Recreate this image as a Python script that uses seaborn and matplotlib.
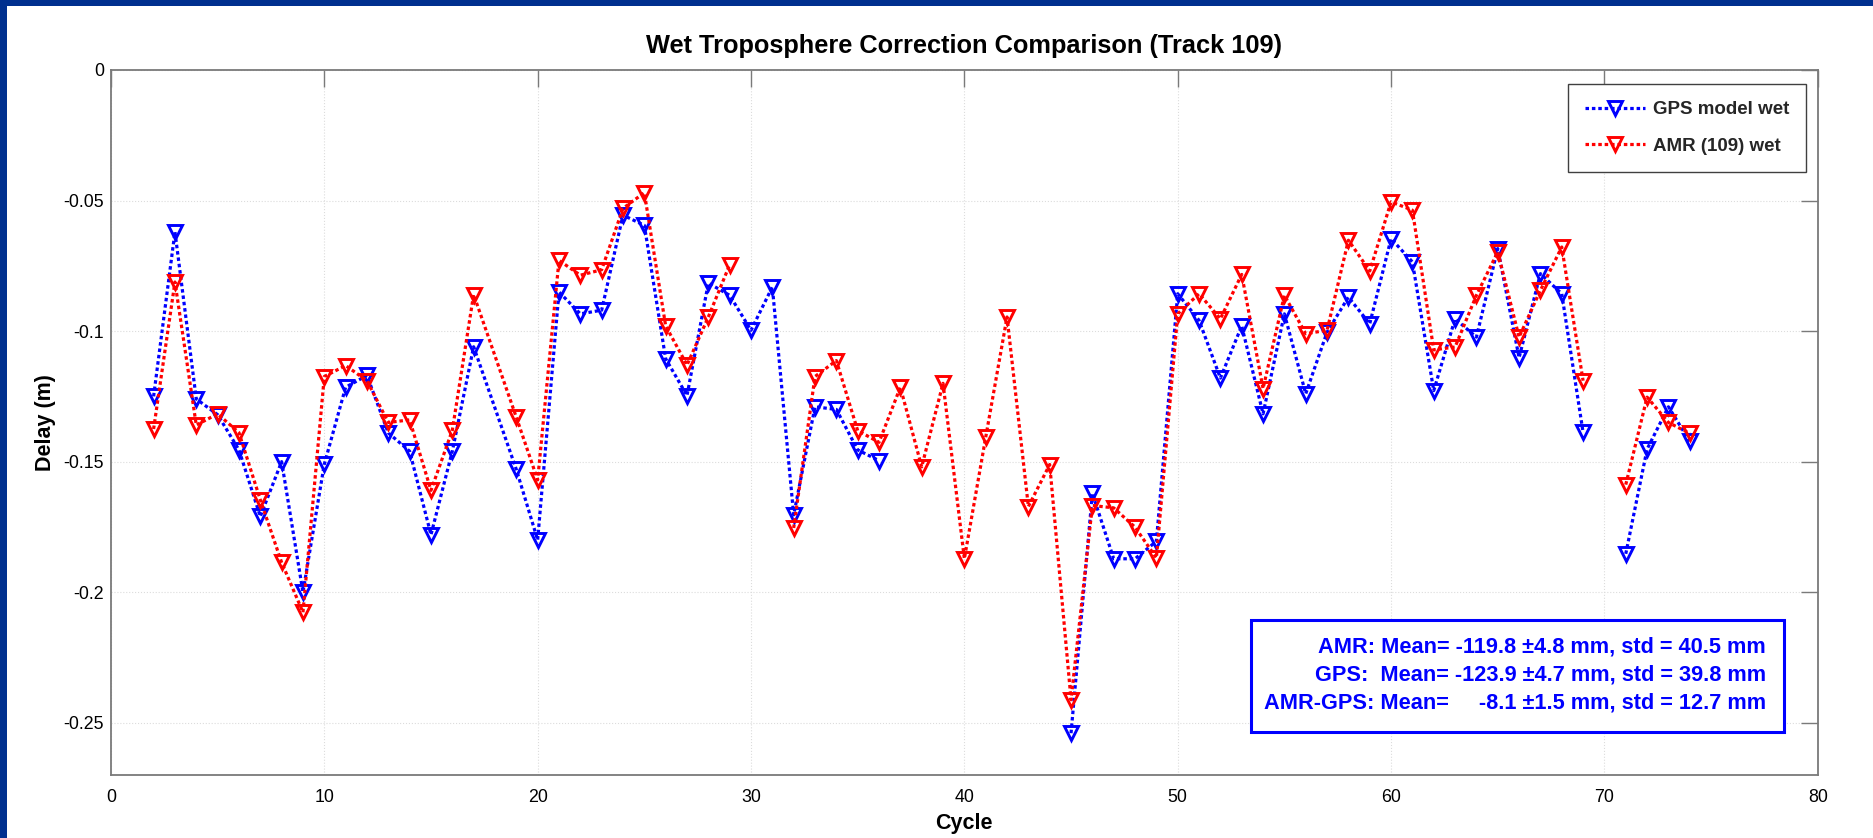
import numpy as np
import pandas as pd
import matplotlib
matplotlib.use("Agg")
import matplotlib.pyplot as plt
import seaborn as sns
from matplotlib.patches import Rectangle
from matplotlib.lines import Line2D

# ---------------- data ----------------
cycles = [2, 3, 4, 5, 6, 7, 8, 9, 10, 11, 12, 13, 14, 15, 16, 17,
          19, 20, 21, 22, 23, 24, 25, 26, 27, 28, 29, 30, 31, 32, 33, 34, 35, 36,
          37, 38, 39, 40, 41, 42, 43, 44, 45, 46, 47, 48, 49, 50,
          51, 52, 53, 54, 55, 56, 57, 58, 59, 60, 61, 62, 63, 64, 65, 66, 67, 68, 69,
          70, 71, 72, 73, 74]

nan = np.nan
gps_wet = [-0.125, -0.062, -0.126, -0.132, -0.1455, -0.171, -0.150, -0.200, -0.151, -0.1215,
           -0.117, -0.139, -0.146, -0.178, -0.146, -0.106,
           -0.153, -0.180, -0.085, -0.0934, -0.092, -0.0556, -0.0595, -0.1106, -0.1247, -0.0816,
           -0.0863, -0.0997, -0.0831, -0.1704, -0.129, -0.130, -0.1455, -0.1496,
           nan, nan, nan, nan, nan, nan, nan, nan, -0.254, -0.1621, -0.1872, -0.1872, -0.1805, -0.0857,
           -0.0959, -0.118, -0.098, -0.1317, -0.0934, -0.124, -0.1004, -0.087, -0.0972, -0.0646,
           -0.0735, -0.1228, -0.0953, -0.1023, -0.0684, -0.1102, -0.078, -0.0857, -0.1388,
           nan, -0.1853, -0.1452, -0.129, -0.1422]

amr_wet = [-0.1375, -0.0812, -0.136, -0.1317, -0.1389, -0.1646, -0.1886, -0.2077, -0.1174, -0.1132,
           -0.119, -0.135, -0.134, -0.161, -0.138, -0.086,
           -0.133, -0.157, -0.0729, -0.0786, -0.0765, -0.053, -0.047, -0.098, -0.113, -0.0946,
           -0.0746, nan, nan, -0.1754, -0.1174, -0.1113, -0.1381, -0.1426,
           -0.1215, -0.152, -0.120, -0.1872, -0.1407, -0.0946, -0.1672, -0.1511, -0.2412, -0.1668,
           -0.1677, -0.1751, -0.1869, -0.0934,
           -0.0857, -0.0953, -0.0783, -0.122, -0.0863, -0.101, -0.0997, -0.0652, -0.077, -0.0505,
           -0.0537, -0.1072, -0.1061, -0.0863, -0.0697, -0.1023, -0.0844, -0.0678, -0.119,
           nan, -0.1588, -0.1253, -0.135, -0.1392]

series_names = ["GPS model wet", "AMR (109) wet"]
series_colors = ["#0000FF", "#FF0000"]

stats_lines = ["AMR: Mean= -119.8 \u00b14.8 mm, std = 40.5 mm",
               "GPS:  Mean= -123.9 \u00b14.7 mm, std = 39.8 mm",
               "AMR-GPS: Mean=     -8.1 \u00b11.5 mm, std = 12.7 mm"]

title_text = "Wet Troposphere Correction Comparison (Track 109)"
x_label = "Cycle"
y_label = "Delay (m)"
x_ticks = [0, 10, 20, 30, 40, 50, 60, 70, 80]
x_tick_labels = ["0", "10", "20", "30", "40", "50", "60", "70", "80"]
y_ticks = [0, -0.05, -0.1, -0.15, -0.2, -0.25]
y_tick_labels = ["0", "-0.05", "-0.1", "-0.15", "-0.2", "-0.25"]

# ---------------- style ----------------
sns.set_theme(style="white")
plt.rcParams["font.family"] = ["Liberation Sans", "DejaVu Sans"]

fig = plt.figure(figsize=(18.74, 8.38), dpi=100)
fig.patch.set_facecolor("white")
ax = fig.add_axes([0.0592, 0.0752, 0.970 - 0.0592, 0.9165 - 0.0752])

line_style = (0, (1.1, 0.9))
LW = 2.3
MS = 10
MEW = 2.1

def build_frame(values):
    v = np.asarray(values, dtype=float)
    seg = np.cumsum(np.isnan(v))
    df = pd.DataFrame({"cycle": cycles, "value": v, "seg": seg})
    return df.dropna()

for name, vals, col in [(series_names[0], gps_wet, series_colors[0]),
                        (series_names[1], amr_wet, series_colors[1])]:
    df = build_frame(vals)
    sns.lineplot(data=df, x="cycle", y="value", units="seg", estimator=None,
                 sort=False, legend=False, ax=ax, color=col, linewidth=LW,
                 linestyle=line_style, marker="v", markersize=MS,
                 markerfacecolor="none", markeredgecolor=col, markeredgewidth=MEW,
                 zorder=3)

ax.set_xlim(0, 80)
ax.set_ylim(-0.27, 0)
ax.set_xticks(x_ticks, labels=x_tick_labels)
ax.set_yticks(y_ticks, labels=y_tick_labels)

ax.grid(True, linestyle=":", color="#dcdcdc", linewidth=0.8)
for sp in ax.spines.values():
    sp.set_visible(True)
    sp.set_color("#7a7a7a")
    sp.set_linewidth(1.3)

ax.tick_params(axis="both", direction="in", length=12, width=1.0, color="#7a7a7a",
               top=True, right=True, labelsize=12.8, labelcolor="black")
ax.tick_params(axis="x", pad=10)
ax.tick_params(axis="y", pad=5)

ax.set_xlabel(x_label, fontsize=15.5, fontweight="bold", labelpad=5, color="black")
ax.set_ylabel(y_label, fontsize=15.5, fontweight="bold", labelpad=5, color="black")
ax.set_title(title_text, fontsize=18.3, fontweight="bold", pad=12, color="black")

# legend
handles = [Line2D([], [], color=c, linewidth=LW, linestyle=line_style, marker="v",
                  markersize=MS, markerfacecolor="none", markeredgecolor=c,
                  markeredgewidth=MEW) for c in series_colors]
leg = ax.legend(handles, series_names, loc="upper right", bbox_to_anchor=(0.993, 0.980),
                frameon=True, fancybox=False, framealpha=1, edgecolor="#404040",
                prop={"weight": "bold", "size": 13.5}, handlelength=3.2,
                handletextpad=0.4, labelspacing=1.05, borderpad=0.9, borderaxespad=0)
leg.get_frame().set_linewidth(1.0)

# statistics box
ax.add_patch(Rectangle((0.668, 0.061), 0.312, 0.159, transform=ax.transAxes,
                       facecolor="white", edgecolor="#0000FF", linewidth=2.2, zorder=5))
ax.text(0.9695, 0.1418, "\n".join(stats_lines), transform=ax.transAxes,
        ha="right", va="center", multialignment="right", color="#0000FF",
        fontsize=15.7, fontweight="bold", linespacing=1.42, zorder=6)

# dark blue frame (top and left)
fig.add_artist(Rectangle((0, 1 - 6 / 838), 1, 6 / 838, transform=fig.transFigure,
                         facecolor="#00308F", edgecolor="none", zorder=10))
fig.add_artist(Rectangle((0, 0), 7 / 1874, 1, transform=fig.transFigure,
                         facecolor="#00308F", edgecolor="none", zorder=10))

fig.savefig("out.png", dpi=100, facecolor="white")
